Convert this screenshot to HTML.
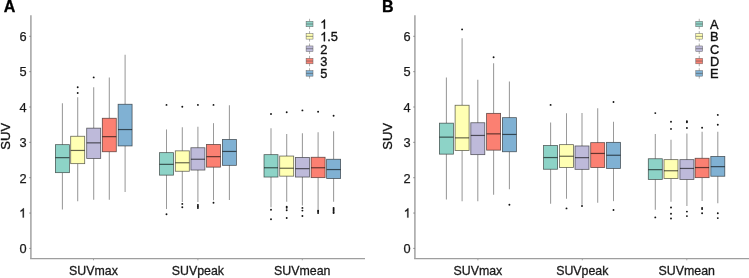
<!DOCTYPE html>
<html><head><meta charset="utf-8"><style>
html,body{margin:0;padding:0;background:#fff;}
body{width:749px;height:278px;overflow:hidden;}
svg{display:block;}
text{font-family:"Liberation Sans",sans-serif;fill:#111;}
svg{will-change:transform;}
.tk{font-size:12.8px;fill:#1a1a1a;stroke:#1a1a1a;stroke-width:0.25px;}
.lb{font-size:13px;fill:#1a1a1a;stroke:#1a1a1a;stroke-width:0.3px;}
.lg{font-size:12.8px;fill:#111;stroke:#111;stroke-width:0.35px;}
.yt{font-size:13px;fill:#111;stroke:#111;stroke-width:0.35px;}
.ttl{font-size:15px;font-weight:bold;fill:#000;stroke:#000;stroke-width:0.3px;}
</style></head><body>
<svg width="749" height="278" viewBox="0 0 749 278">
<rect width="749" height="278" fill="#fff"/>
<line x1="30.9" y1="15.2" x2="30.9" y2="258.6" stroke="#a8a8a8" stroke-width="1.6"/>
<line x1="30.1" y1="258.6" x2="365" y2="258.6" stroke="#9e9e9e" stroke-width="1.3"/>
<line x1="29.4" y1="248.4" x2="30.6" y2="248.4" stroke="#666" stroke-width="0.9"/>
<text x="26.6" y="253.2" text-anchor="end" class="tk">0</text>
<line x1="29.4" y1="213.05" x2="30.6" y2="213.05" stroke="#666" stroke-width="0.9"/>
<path transform="translate(19.08,217.55) scale(0.006250,-0.006250)" d="M763 0H583V1147Q518 1085 412.5 1023Q307 961 223 930V1104Q374 1175 487 1276Q600 1377 647 1472H763Z" fill="#1a1a1a" stroke="#1a1a1a" stroke-width="40.0"/>
<line x1="29.4" y1="177.7" x2="30.6" y2="177.7" stroke="#666" stroke-width="0.9"/>
<text x="26.6" y="182.5" text-anchor="end" class="tk">2</text>
<line x1="29.4" y1="142.35" x2="30.6" y2="142.35" stroke="#666" stroke-width="0.9"/>
<text x="26.6" y="147.15" text-anchor="end" class="tk">3</text>
<line x1="29.4" y1="107" x2="30.6" y2="107" stroke="#666" stroke-width="0.9"/>
<text x="26.6" y="111.8" text-anchor="end" class="tk">4</text>
<line x1="29.4" y1="71.65" x2="30.6" y2="71.65" stroke="#666" stroke-width="0.9"/>
<text x="26.6" y="76.45" text-anchor="end" class="tk">5</text>
<line x1="29.4" y1="36.3" x2="30.6" y2="36.3" stroke="#666" stroke-width="0.9"/>
<text x="26.6" y="41.1" text-anchor="end" class="tk">6</text>
<line x1="93.5" y1="259.25" x2="93.5" y2="260.25" stroke="#777" stroke-width="0.8"/>
<text x="93.5" y="274.8" text-anchor="middle" class="lb" textLength="48.8" lengthAdjust="spacingAndGlyphs">SUVmax</text>
<line x1="197.9" y1="259.25" x2="197.9" y2="260.25" stroke="#777" stroke-width="0.8"/>
<text x="197.9" y="274.8" text-anchor="middle" class="lb" textLength="52.2" lengthAdjust="spacingAndGlyphs">SUVpeak</text>
<line x1="302.3" y1="259.25" x2="302.3" y2="260.25" stroke="#777" stroke-width="0.8"/>
<text x="302.3" y="274.8" text-anchor="middle" class="lb" textLength="56.4" lengthAdjust="spacingAndGlyphs">SUVmean</text>
<line x1="62.4" y1="103.25" x2="62.4" y2="144.65" stroke="#9a9a9a" stroke-width="1.05"/>
<line x1="62.4" y1="172.65" x2="62.4" y2="209.55" stroke="#9a9a9a" stroke-width="1.05"/>
<rect x="55.4" y="144.65" width="14" height="28" fill="#8dd3c7" stroke="rgba(0,0,0,0.6)" stroke-width="0.8"/>
<line x1="55.4" y1="157.65" x2="69.4" y2="157.65" stroke="rgba(0,0,0,0.6)" stroke-width="1.2"/>
<line x1="77.7" y1="97.25" x2="77.7" y2="136.25" stroke="#9a9a9a" stroke-width="1.05"/>
<line x1="77.7" y1="163.65" x2="77.7" y2="201.25" stroke="#9a9a9a" stroke-width="1.05"/>
<rect x="70.7" y="136.25" width="14" height="27.4" fill="#ffffb3" stroke="rgba(0,0,0,0.6)" stroke-width="0.8"/>
<line x1="70.7" y1="150.45" x2="84.7" y2="150.45" stroke="rgba(0,0,0,0.6)" stroke-width="1.2"/>
<circle cx="77.7" cy="87.2" r="0.95" fill="#111"/>
<circle cx="77.7" cy="93" r="0.95" fill="#111"/>
<line x1="93.7" y1="87.25" x2="93.7" y2="128.15" stroke="#9a9a9a" stroke-width="1.05"/>
<line x1="93.7" y1="158.45" x2="93.7" y2="199.85" stroke="#9a9a9a" stroke-width="1.05"/>
<rect x="86.7" y="128.15" width="14" height="30.3" fill="#bebada" stroke="rgba(0,0,0,0.6)" stroke-width="0.8"/>
<line x1="86.7" y1="142.85" x2="100.7" y2="142.85" stroke="rgba(0,0,0,0.6)" stroke-width="1.2"/>
<circle cx="93.7" cy="77.4" r="0.95" fill="#111"/>
<line x1="109.3" y1="77.45" x2="109.3" y2="118.25" stroke="#9a9a9a" stroke-width="1.05"/>
<line x1="109.3" y1="151.75" x2="109.3" y2="199.85" stroke="#9a9a9a" stroke-width="1.05"/>
<rect x="102.3" y="118.25" width="14" height="33.5" fill="#fb8072" stroke="rgba(0,0,0,0.6)" stroke-width="0.8"/>
<line x1="102.3" y1="136.65" x2="116.3" y2="136.65" stroke="rgba(0,0,0,0.6)" stroke-width="1.2"/>
<line x1="125.1" y1="54.75" x2="125.1" y2="104.25" stroke="#9a9a9a" stroke-width="1.05"/>
<line x1="125.1" y1="145.95" x2="125.1" y2="192.05" stroke="#9a9a9a" stroke-width="1.05"/>
<rect x="118.1" y="104.25" width="14" height="41.7" fill="#80b1d3" stroke="rgba(0,0,0,0.6)" stroke-width="0.8"/>
<line x1="118.1" y1="129.55" x2="132.1" y2="129.55" stroke="rgba(0,0,0,0.6)" stroke-width="1.2"/>
<line x1="166.5" y1="129.45" x2="166.5" y2="152.65" stroke="#9a9a9a" stroke-width="1.05"/>
<line x1="166.5" y1="175.15" x2="166.5" y2="209.05" stroke="#9a9a9a" stroke-width="1.05"/>
<rect x="159.5" y="152.65" width="14" height="22.5" fill="#8dd3c7" stroke="rgba(0,0,0,0.6)" stroke-width="0.8"/>
<line x1="159.5" y1="164.35" x2="173.5" y2="164.35" stroke="rgba(0,0,0,0.6)" stroke-width="1.2"/>
<circle cx="166.5" cy="104.9" r="0.95" fill="#111"/>
<circle cx="166.5" cy="214.2" r="0.95" fill="#111"/>
<line x1="182.3" y1="127.25" x2="182.3" y2="150.85" stroke="#9a9a9a" stroke-width="1.05"/>
<line x1="182.3" y1="171.25" x2="182.3" y2="202.05" stroke="#9a9a9a" stroke-width="1.05"/>
<rect x="175.3" y="150.85" width="14" height="20.4" fill="#ffffb3" stroke="rgba(0,0,0,0.6)" stroke-width="0.8"/>
<line x1="175.3" y1="162.75" x2="189.3" y2="162.75" stroke="rgba(0,0,0,0.6)" stroke-width="1.2"/>
<circle cx="182.3" cy="106.7" r="0.95" fill="#111"/>
<circle cx="182.3" cy="203.9" r="0.95" fill="#111"/>
<circle cx="182.3" cy="207.3" r="0.95" fill="#111"/>
<line x1="197.9" y1="126.75" x2="197.9" y2="147.75" stroke="#9a9a9a" stroke-width="1.05"/>
<line x1="197.9" y1="170.05" x2="197.9" y2="202.05" stroke="#9a9a9a" stroke-width="1.05"/>
<rect x="190.9" y="147.75" width="14" height="22.3" fill="#bebada" stroke="rgba(0,0,0,0.6)" stroke-width="0.8"/>
<line x1="190.9" y1="159.25" x2="204.9" y2="159.25" stroke="rgba(0,0,0,0.6)" stroke-width="1.2"/>
<circle cx="197.9" cy="104.9" r="0.95" fill="#111"/>
<circle cx="197.9" cy="205" r="0.95" fill="#111"/>
<circle cx="197.9" cy="206.5" r="0.95" fill="#111"/>
<circle cx="197.9" cy="208" r="0.95" fill="#111"/>
<line x1="213.5" y1="123.15" x2="213.5" y2="144.45" stroke="#9a9a9a" stroke-width="1.05"/>
<line x1="213.5" y1="167.15" x2="213.5" y2="200.25" stroke="#9a9a9a" stroke-width="1.05"/>
<rect x="206.5" y="144.45" width="14" height="22.7" fill="#fb8072" stroke="rgba(0,0,0,0.6)" stroke-width="0.8"/>
<line x1="206.5" y1="156.65" x2="220.5" y2="156.65" stroke="rgba(0,0,0,0.6)" stroke-width="1.2"/>
<circle cx="213.5" cy="104.9" r="0.95" fill="#111"/>
<circle cx="213.5" cy="202.8" r="0.95" fill="#111"/>
<line x1="229.4" y1="105.15" x2="229.4" y2="139.45" stroke="#9a9a9a" stroke-width="1.05"/>
<line x1="229.4" y1="165.35" x2="229.4" y2="199.95" stroke="#9a9a9a" stroke-width="1.05"/>
<rect x="222.4" y="139.45" width="14" height="25.9" fill="#80b1d3" stroke="rgba(0,0,0,0.6)" stroke-width="0.8"/>
<line x1="222.4" y1="151.45" x2="236.4" y2="151.45" stroke="rgba(0,0,0,0.6)" stroke-width="1.2"/>
<line x1="271" y1="128.15" x2="271" y2="154.65" stroke="#9a9a9a" stroke-width="1.05"/>
<line x1="271" y1="177.05" x2="271" y2="207.25" stroke="#9a9a9a" stroke-width="1.05"/>
<rect x="264" y="154.65" width="14" height="22.4" fill="#8dd3c7" stroke="rgba(0,0,0,0.6)" stroke-width="0.8"/>
<line x1="264" y1="167.75" x2="278" y2="167.75" stroke="rgba(0,0,0,0.6)" stroke-width="1.2"/>
<circle cx="271" cy="114" r="0.95" fill="#111"/>
<circle cx="271" cy="209.7" r="0.95" fill="#111"/>
<circle cx="271" cy="219.2" r="0.95" fill="#111"/>
<line x1="286.7" y1="134.05" x2="286.7" y2="156.05" stroke="#9a9a9a" stroke-width="1.05"/>
<line x1="286.7" y1="176.15" x2="286.7" y2="201.85" stroke="#9a9a9a" stroke-width="1.05"/>
<rect x="279.7" y="156.05" width="14" height="20.1" fill="#ffffb3" stroke="rgba(0,0,0,0.6)" stroke-width="0.8"/>
<line x1="279.7" y1="168.25" x2="293.7" y2="168.25" stroke="rgba(0,0,0,0.6)" stroke-width="1.2"/>
<circle cx="286.7" cy="112.2" r="0.95" fill="#111"/>
<circle cx="286.7" cy="206.6" r="0.95" fill="#111"/>
<circle cx="286.7" cy="207.8" r="0.95" fill="#111"/>
<circle cx="286.7" cy="210.2" r="0.95" fill="#111"/>
<circle cx="286.7" cy="218" r="0.95" fill="#111"/>
<line x1="302.4" y1="133.15" x2="302.4" y2="157.45" stroke="#9a9a9a" stroke-width="1.05"/>
<line x1="302.4" y1="177.05" x2="302.4" y2="205.45" stroke="#9a9a9a" stroke-width="1.05"/>
<rect x="295.4" y="157.45" width="14" height="19.6" fill="#bebada" stroke="rgba(0,0,0,0.6)" stroke-width="0.8"/>
<line x1="295.4" y1="168.65" x2="309.4" y2="168.65" stroke="rgba(0,0,0,0.6)" stroke-width="1.2"/>
<circle cx="302.4" cy="110.4" r="0.95" fill="#111"/>
<circle cx="302.4" cy="207.9" r="0.95" fill="#111"/>
<circle cx="302.4" cy="210.6" r="0.95" fill="#111"/>
<circle cx="302.4" cy="216" r="0.95" fill="#111"/>
<line x1="318.1" y1="132.25" x2="318.1" y2="157.25" stroke="#9a9a9a" stroke-width="1.05"/>
<line x1="318.1" y1="177.65" x2="318.1" y2="209.05" stroke="#9a9a9a" stroke-width="1.05"/>
<rect x="311.1" y="157.25" width="14" height="20.4" fill="#fb8072" stroke="rgba(0,0,0,0.6)" stroke-width="0.8"/>
<line x1="311.1" y1="167.75" x2="325.1" y2="167.75" stroke="rgba(0,0,0,0.6)" stroke-width="1.2"/>
<circle cx="318.1" cy="111.7" r="0.95" fill="#111"/>
<circle cx="318.1" cy="210.4" r="0.95" fill="#111"/>
<circle cx="318.1" cy="211.6" r="0.95" fill="#111"/>
<circle cx="318.1" cy="213" r="0.95" fill="#111"/>
<line x1="333.6" y1="131.15" x2="333.6" y2="159.25" stroke="#9a9a9a" stroke-width="1.05"/>
<line x1="333.6" y1="178.55" x2="333.6" y2="201.85" stroke="#9a9a9a" stroke-width="1.05"/>
<rect x="326.6" y="159.25" width="14" height="19.3" fill="#80b1d3" stroke="rgba(0,0,0,0.6)" stroke-width="0.8"/>
<line x1="326.6" y1="169.55" x2="340.6" y2="169.55" stroke="rgba(0,0,0,0.6)" stroke-width="1.2"/>
<circle cx="333.6" cy="115.8" r="0.95" fill="#111"/>
<circle cx="333.6" cy="208" r="0.95" fill="#111"/>
<circle cx="333.6" cy="209.3" r="0.95" fill="#111"/>
<circle cx="333.6" cy="210.6" r="0.95" fill="#111"/>
<circle cx="333.6" cy="211.9" r="0.95" fill="#111"/>
<circle cx="333.6" cy="213" r="0.95" fill="#111"/>
<text transform="translate(3.7,11.7) scale(1.07,1.04)" class="ttl">A</text>
<line x1="309.55" y1="18.8" x2="309.55" y2="29.2" stroke="#9a9a9a" stroke-width="0.8"/>
<rect x="306.1" y="21.25" width="6.9" height="5.5" fill="#8dd3c7" stroke="#666" stroke-width="0.5"/>
<line x1="306.1" y1="24" x2="313" y2="24" stroke="#555" stroke-width="0.6"/>
<path transform="translate(320.2,28.8) scale(0.006250,-0.006250)" d="M763 0H583V1147Q518 1085 412.5 1023Q307 961 223 930V1104Q374 1175 487 1276Q600 1377 647 1472H763Z" fill="#111" stroke="#111" stroke-width="56.0"/>
<line x1="309.55" y1="31.15" x2="309.55" y2="41.55" stroke="#9a9a9a" stroke-width="0.8"/>
<rect x="306.1" y="33.6" width="6.9" height="5.5" fill="#ffffb3" stroke="#666" stroke-width="0.5"/>
<line x1="306.1" y1="36.35" x2="313" y2="36.35" stroke="#555" stroke-width="0.6"/>
<path transform="translate(320.2,41.15) scale(0.006250,-0.006250)" d="M763 0H583V1147Q518 1085 412.5 1023Q307 961 223 930V1104Q374 1175 487 1276Q600 1377 647 1472H763Z" fill="#111" stroke="#111" stroke-width="56.0"/>
<text x="327.32" y="41.15" class="lg">.5</text>
<line x1="309.55" y1="43.5" x2="309.55" y2="53.9" stroke="#9a9a9a" stroke-width="0.8"/>
<rect x="306.1" y="45.95" width="6.9" height="5.5" fill="#bebada" stroke="#666" stroke-width="0.5"/>
<line x1="306.1" y1="48.7" x2="313" y2="48.7" stroke="#555" stroke-width="0.6"/>
<text x="320.2" y="53.5" class="lg">2</text>
<line x1="309.55" y1="55.85" x2="309.55" y2="66.25" stroke="#9a9a9a" stroke-width="0.8"/>
<rect x="306.1" y="58.3" width="6.9" height="5.5" fill="#fb8072" stroke="#666" stroke-width="0.5"/>
<line x1="306.1" y1="61.05" x2="313" y2="61.05" stroke="#555" stroke-width="0.6"/>
<text x="320.2" y="65.85" class="lg">3</text>
<line x1="309.55" y1="68.2" x2="309.55" y2="78.6" stroke="#9a9a9a" stroke-width="0.8"/>
<rect x="306.1" y="70.65" width="6.9" height="5.5" fill="#80b1d3" stroke="#666" stroke-width="0.5"/>
<line x1="306.1" y1="73.4" x2="313" y2="73.4" stroke="#555" stroke-width="0.6"/>
<text x="320.2" y="78.2" class="lg">5</text>
<line x1="414.9" y1="15.2" x2="414.9" y2="258.6" stroke="#a8a8a8" stroke-width="1.6"/>
<line x1="414.1" y1="258.6" x2="749" y2="258.6" stroke="#9e9e9e" stroke-width="1.3"/>
<line x1="413.4" y1="248.4" x2="414.6" y2="248.4" stroke="#666" stroke-width="0.9"/>
<text x="410.6" y="253.2" text-anchor="end" class="tk">0</text>
<line x1="413.4" y1="213.05" x2="414.6" y2="213.05" stroke="#666" stroke-width="0.9"/>
<path transform="translate(403.63,217.55) scale(0.006250,-0.006250)" d="M763 0H583V1147Q518 1085 412.5 1023Q307 961 223 930V1104Q374 1175 487 1276Q600 1377 647 1472H763Z" fill="#1a1a1a" stroke="#1a1a1a" stroke-width="40.0"/>
<line x1="413.4" y1="177.7" x2="414.6" y2="177.7" stroke="#666" stroke-width="0.9"/>
<text x="410.6" y="182.5" text-anchor="end" class="tk">2</text>
<line x1="413.4" y1="142.35" x2="414.6" y2="142.35" stroke="#666" stroke-width="0.9"/>
<text x="410.6" y="147.15" text-anchor="end" class="tk">3</text>
<line x1="413.4" y1="107" x2="414.6" y2="107" stroke="#666" stroke-width="0.9"/>
<text x="410.6" y="111.8" text-anchor="end" class="tk">4</text>
<line x1="413.4" y1="71.65" x2="414.6" y2="71.65" stroke="#666" stroke-width="0.9"/>
<text x="410.6" y="76.45" text-anchor="end" class="tk">5</text>
<line x1="413.4" y1="36.3" x2="414.6" y2="36.3" stroke="#666" stroke-width="0.9"/>
<text x="410.6" y="41.1" text-anchor="end" class="tk">6</text>
<line x1="477.9" y1="259.25" x2="477.9" y2="260.25" stroke="#777" stroke-width="0.8"/>
<text x="477.9" y="274.8" text-anchor="middle" class="lb" textLength="48.8" lengthAdjust="spacingAndGlyphs">SUVmax</text>
<line x1="582.3" y1="259.25" x2="582.3" y2="260.25" stroke="#777" stroke-width="0.8"/>
<text x="582.3" y="274.8" text-anchor="middle" class="lb" textLength="52.2" lengthAdjust="spacingAndGlyphs">SUVpeak</text>
<line x1="686.8" y1="259.25" x2="686.8" y2="260.25" stroke="#777" stroke-width="0.8"/>
<text x="686.8" y="274.8" text-anchor="middle" class="lb" textLength="56.4" lengthAdjust="spacingAndGlyphs">SUVmean</text>
<line x1="446.4" y1="77.45" x2="446.4" y2="123.15" stroke="#9a9a9a" stroke-width="1.05"/>
<line x1="446.4" y1="154.15" x2="446.4" y2="199.45" stroke="#9a9a9a" stroke-width="1.05"/>
<rect x="439.4" y="123.15" width="14" height="31" fill="#8dd3c7" stroke="rgba(0,0,0,0.6)" stroke-width="0.8"/>
<line x1="439.4" y1="137.15" x2="453.4" y2="137.15" stroke="rgba(0,0,0,0.6)" stroke-width="1.2"/>
<line x1="462.1" y1="38.25" x2="462.1" y2="105.25" stroke="#9a9a9a" stroke-width="1.05"/>
<line x1="462.1" y1="150.55" x2="462.1" y2="201.15" stroke="#9a9a9a" stroke-width="1.05"/>
<rect x="455.1" y="105.25" width="14" height="45.3" fill="#ffffb3" stroke="rgba(0,0,0,0.6)" stroke-width="0.8"/>
<line x1="455.1" y1="137.85" x2="469.1" y2="137.85" stroke="rgba(0,0,0,0.6)" stroke-width="1.2"/>
<circle cx="462.1" cy="29.4" r="0.95" fill="#111"/>
<line x1="477.8" y1="79.65" x2="477.8" y2="122.75" stroke="#9a9a9a" stroke-width="1.05"/>
<line x1="477.8" y1="154.65" x2="477.8" y2="201.15" stroke="#9a9a9a" stroke-width="1.05"/>
<rect x="470.8" y="122.75" width="14" height="31.9" fill="#bebada" stroke="rgba(0,0,0,0.6)" stroke-width="0.8"/>
<line x1="470.8" y1="135.45" x2="484.8" y2="135.45" stroke="rgba(0,0,0,0.6)" stroke-width="1.2"/>
<line x1="493.6" y1="63.25" x2="493.6" y2="113.35" stroke="#9a9a9a" stroke-width="1.05"/>
<line x1="493.6" y1="150.15" x2="493.6" y2="194.65" stroke="#9a9a9a" stroke-width="1.05"/>
<rect x="486.6" y="113.35" width="14" height="36.8" fill="#fb8072" stroke="rgba(0,0,0,0.6)" stroke-width="0.8"/>
<line x1="486.6" y1="133.85" x2="500.6" y2="133.85" stroke="rgba(0,0,0,0.6)" stroke-width="1.2"/>
<circle cx="493.6" cy="57.2" r="0.95" fill="#111"/>
<line x1="509.4" y1="81.55" x2="509.4" y2="117.65" stroke="#9a9a9a" stroke-width="1.05"/>
<line x1="509.4" y1="151.75" x2="509.4" y2="189.25" stroke="#9a9a9a" stroke-width="1.05"/>
<rect x="502.4" y="117.65" width="14" height="34.1" fill="#80b1d3" stroke="rgba(0,0,0,0.6)" stroke-width="0.8"/>
<line x1="502.4" y1="134.45" x2="516.4" y2="134.45" stroke="rgba(0,0,0,0.6)" stroke-width="1.2"/>
<circle cx="509.4" cy="204.8" r="0.95" fill="#111"/>
<line x1="550.6" y1="122.55" x2="550.6" y2="145.55" stroke="#9a9a9a" stroke-width="1.05"/>
<line x1="550.6" y1="169.25" x2="550.6" y2="203.75" stroke="#9a9a9a" stroke-width="1.05"/>
<rect x="543.6" y="145.55" width="14" height="23.7" fill="#8dd3c7" stroke="rgba(0,0,0,0.6)" stroke-width="0.8"/>
<line x1="543.6" y1="157.55" x2="557.6" y2="157.55" stroke="rgba(0,0,0,0.6)" stroke-width="1.2"/>
<circle cx="550.6" cy="104.9" r="0.95" fill="#111"/>
<line x1="566.5" y1="113.25" x2="566.5" y2="144.65" stroke="#9a9a9a" stroke-width="1.05"/>
<line x1="566.5" y1="167.45" x2="566.5" y2="198.75" stroke="#9a9a9a" stroke-width="1.05"/>
<rect x="559.5" y="144.65" width="14" height="22.8" fill="#ffffb3" stroke="rgba(0,0,0,0.6)" stroke-width="0.8"/>
<line x1="559.5" y1="156.25" x2="573.5" y2="156.25" stroke="rgba(0,0,0,0.6)" stroke-width="1.2"/>
<circle cx="566.5" cy="208.4" r="0.95" fill="#111"/>
<line x1="582" y1="113.05" x2="582" y2="145.95" stroke="#9a9a9a" stroke-width="1.05"/>
<line x1="582" y1="169.35" x2="582" y2="204.75" stroke="#9a9a9a" stroke-width="1.05"/>
<rect x="575" y="145.95" width="14" height="23.4" fill="#bebada" stroke="rgba(0,0,0,0.6)" stroke-width="0.8"/>
<line x1="575" y1="157.65" x2="589" y2="157.65" stroke="rgba(0,0,0,0.6)" stroke-width="1.2"/>
<circle cx="582" cy="206" r="0.95" fill="#111"/>
<line x1="597.7" y1="108.25" x2="597.7" y2="142.65" stroke="#9a9a9a" stroke-width="1.05"/>
<line x1="597.7" y1="167.55" x2="597.7" y2="202.85" stroke="#9a9a9a" stroke-width="1.05"/>
<rect x="590.7" y="142.65" width="14" height="24.9" fill="#fb8072" stroke="rgba(0,0,0,0.6)" stroke-width="0.8"/>
<line x1="590.7" y1="153.45" x2="604.7" y2="153.45" stroke="rgba(0,0,0,0.6)" stroke-width="1.2"/>
<line x1="613.5" y1="121.75" x2="613.5" y2="142.35" stroke="#9a9a9a" stroke-width="1.05"/>
<line x1="613.5" y1="168.45" x2="613.5" y2="201.15" stroke="#9a9a9a" stroke-width="1.05"/>
<rect x="606.5" y="142.35" width="14" height="26.1" fill="#80b1d3" stroke="rgba(0,0,0,0.6)" stroke-width="0.8"/>
<line x1="606.5" y1="155.25" x2="620.5" y2="155.25" stroke="rgba(0,0,0,0.6)" stroke-width="1.2"/>
<circle cx="613.5" cy="102" r="0.95" fill="#111"/>
<circle cx="613.5" cy="210" r="0.95" fill="#111"/>
<line x1="655.3" y1="134.05" x2="655.3" y2="158.75" stroke="#9a9a9a" stroke-width="1.05"/>
<line x1="655.3" y1="179.45" x2="655.3" y2="209.85" stroke="#9a9a9a" stroke-width="1.05"/>
<rect x="648.3" y="158.75" width="14" height="20.7" fill="#8dd3c7" stroke="rgba(0,0,0,0.6)" stroke-width="0.8"/>
<line x1="648.3" y1="169.65" x2="662.3" y2="169.65" stroke="rgba(0,0,0,0.6)" stroke-width="1.2"/>
<circle cx="655.3" cy="113.1" r="0.95" fill="#111"/>
<circle cx="655.3" cy="217.4" r="0.95" fill="#111"/>
<line x1="671" y1="139.75" x2="671" y2="159.65" stroke="#9a9a9a" stroke-width="1.05"/>
<line x1="671" y1="178.55" x2="671" y2="201.75" stroke="#9a9a9a" stroke-width="1.05"/>
<rect x="664" y="159.65" width="14" height="18.9" fill="#ffffb3" stroke="rgba(0,0,0,0.6)" stroke-width="0.8"/>
<line x1="664" y1="170.75" x2="678" y2="170.75" stroke="rgba(0,0,0,0.6)" stroke-width="1.2"/>
<circle cx="671" cy="121.7" r="0.95" fill="#111"/>
<circle cx="671" cy="128.9" r="0.95" fill="#111"/>
<circle cx="671" cy="207.5" r="0.95" fill="#111"/>
<circle cx="671" cy="213.8" r="0.95" fill="#111"/>
<circle cx="671" cy="218.5" r="0.95" fill="#111"/>
<line x1="686.9" y1="133.45" x2="686.9" y2="159.65" stroke="#9a9a9a" stroke-width="1.05"/>
<line x1="686.9" y1="179.45" x2="686.9" y2="205.95" stroke="#9a9a9a" stroke-width="1.05"/>
<rect x="679.9" y="159.65" width="14" height="19.8" fill="#bebada" stroke="rgba(0,0,0,0.6)" stroke-width="0.8"/>
<line x1="679.9" y1="168.45" x2="693.9" y2="168.45" stroke="rgba(0,0,0,0.6)" stroke-width="1.2"/>
<circle cx="686.9" cy="121.2" r="0.95" fill="#111"/>
<circle cx="686.9" cy="122.2" r="0.95" fill="#111"/>
<circle cx="686.9" cy="128" r="0.95" fill="#111"/>
<circle cx="686.9" cy="211.6" r="0.95" fill="#111"/>
<circle cx="686.9" cy="216.1" r="0.95" fill="#111"/>
<line x1="702.1" y1="131.85" x2="702.1" y2="158.25" stroke="#9a9a9a" stroke-width="1.05"/>
<line x1="702.1" y1="177.65" x2="702.1" y2="200.95" stroke="#9a9a9a" stroke-width="1.05"/>
<rect x="695.1" y="158.25" width="14" height="19.4" fill="#fb8072" stroke="rgba(0,0,0,0.6)" stroke-width="0.8"/>
<line x1="695.1" y1="167.55" x2="709.1" y2="167.55" stroke="rgba(0,0,0,0.6)" stroke-width="1.2"/>
<circle cx="702.1" cy="127.8" r="0.95" fill="#111"/>
<circle cx="702.1" cy="207.9" r="0.95" fill="#111"/>
<circle cx="702.1" cy="209.1" r="0.95" fill="#111"/>
<circle cx="702.1" cy="213.3" r="0.95" fill="#111"/>
<line x1="717.8" y1="131.85" x2="717.8" y2="156.45" stroke="#9a9a9a" stroke-width="1.05"/>
<line x1="717.8" y1="176.25" x2="717.8" y2="203.25" stroke="#9a9a9a" stroke-width="1.05"/>
<rect x="710.8" y="156.45" width="14" height="19.8" fill="#80b1d3" stroke="rgba(0,0,0,0.6)" stroke-width="0.8"/>
<line x1="710.8" y1="166.65" x2="724.8" y2="166.65" stroke="rgba(0,0,0,0.6)" stroke-width="1.2"/>
<circle cx="717.8" cy="114.9" r="0.95" fill="#111"/>
<circle cx="717.8" cy="124.8" r="0.95" fill="#111"/>
<circle cx="717.8" cy="213.3" r="0.95" fill="#111"/>
<circle cx="717.8" cy="218.1" r="0.95" fill="#111"/>
<text transform="translate(382.1,12.4) scale(1.07,1.04)" class="ttl">B</text>
<line x1="699.25" y1="18.8" x2="699.25" y2="29.2" stroke="#9a9a9a" stroke-width="0.8"/>
<rect x="695.8" y="21.25" width="6.9" height="5.5" fill="#8dd3c7" stroke="#666" stroke-width="0.5"/>
<line x1="695.8" y1="24" x2="702.7" y2="24" stroke="#555" stroke-width="0.6"/>
<text x="710" y="28.8" class="lg">A</text>
<line x1="699.25" y1="31.15" x2="699.25" y2="41.55" stroke="#9a9a9a" stroke-width="0.8"/>
<rect x="695.8" y="33.6" width="6.9" height="5.5" fill="#ffffb3" stroke="#666" stroke-width="0.5"/>
<line x1="695.8" y1="36.35" x2="702.7" y2="36.35" stroke="#555" stroke-width="0.6"/>
<text x="710" y="41.15" class="lg">B</text>
<line x1="699.25" y1="43.5" x2="699.25" y2="53.9" stroke="#9a9a9a" stroke-width="0.8"/>
<rect x="695.8" y="45.95" width="6.9" height="5.5" fill="#bebada" stroke="#666" stroke-width="0.5"/>
<line x1="695.8" y1="48.7" x2="702.7" y2="48.7" stroke="#555" stroke-width="0.6"/>
<text x="710" y="53.5" class="lg">C</text>
<line x1="699.25" y1="55.85" x2="699.25" y2="66.25" stroke="#9a9a9a" stroke-width="0.8"/>
<rect x="695.8" y="58.3" width="6.9" height="5.5" fill="#fb8072" stroke="#666" stroke-width="0.5"/>
<line x1="695.8" y1="61.05" x2="702.7" y2="61.05" stroke="#555" stroke-width="0.6"/>
<text x="710" y="65.85" class="lg">D</text>
<line x1="699.25" y1="68.2" x2="699.25" y2="78.6" stroke="#9a9a9a" stroke-width="0.8"/>
<rect x="695.8" y="70.65" width="6.9" height="5.5" fill="#80b1d3" stroke="#666" stroke-width="0.5"/>
<line x1="695.8" y1="73.4" x2="702.7" y2="73.4" stroke="#555" stroke-width="0.6"/>
<text x="710" y="78.2" class="lg">E</text>
<text transform="translate(10.1,136.3) rotate(-90)" text-anchor="middle" class="yt">SUV</text>
<text transform="translate(391.8,136.3) rotate(-90)" text-anchor="middle" class="yt">SUV</text>
</svg>
</body></html>
